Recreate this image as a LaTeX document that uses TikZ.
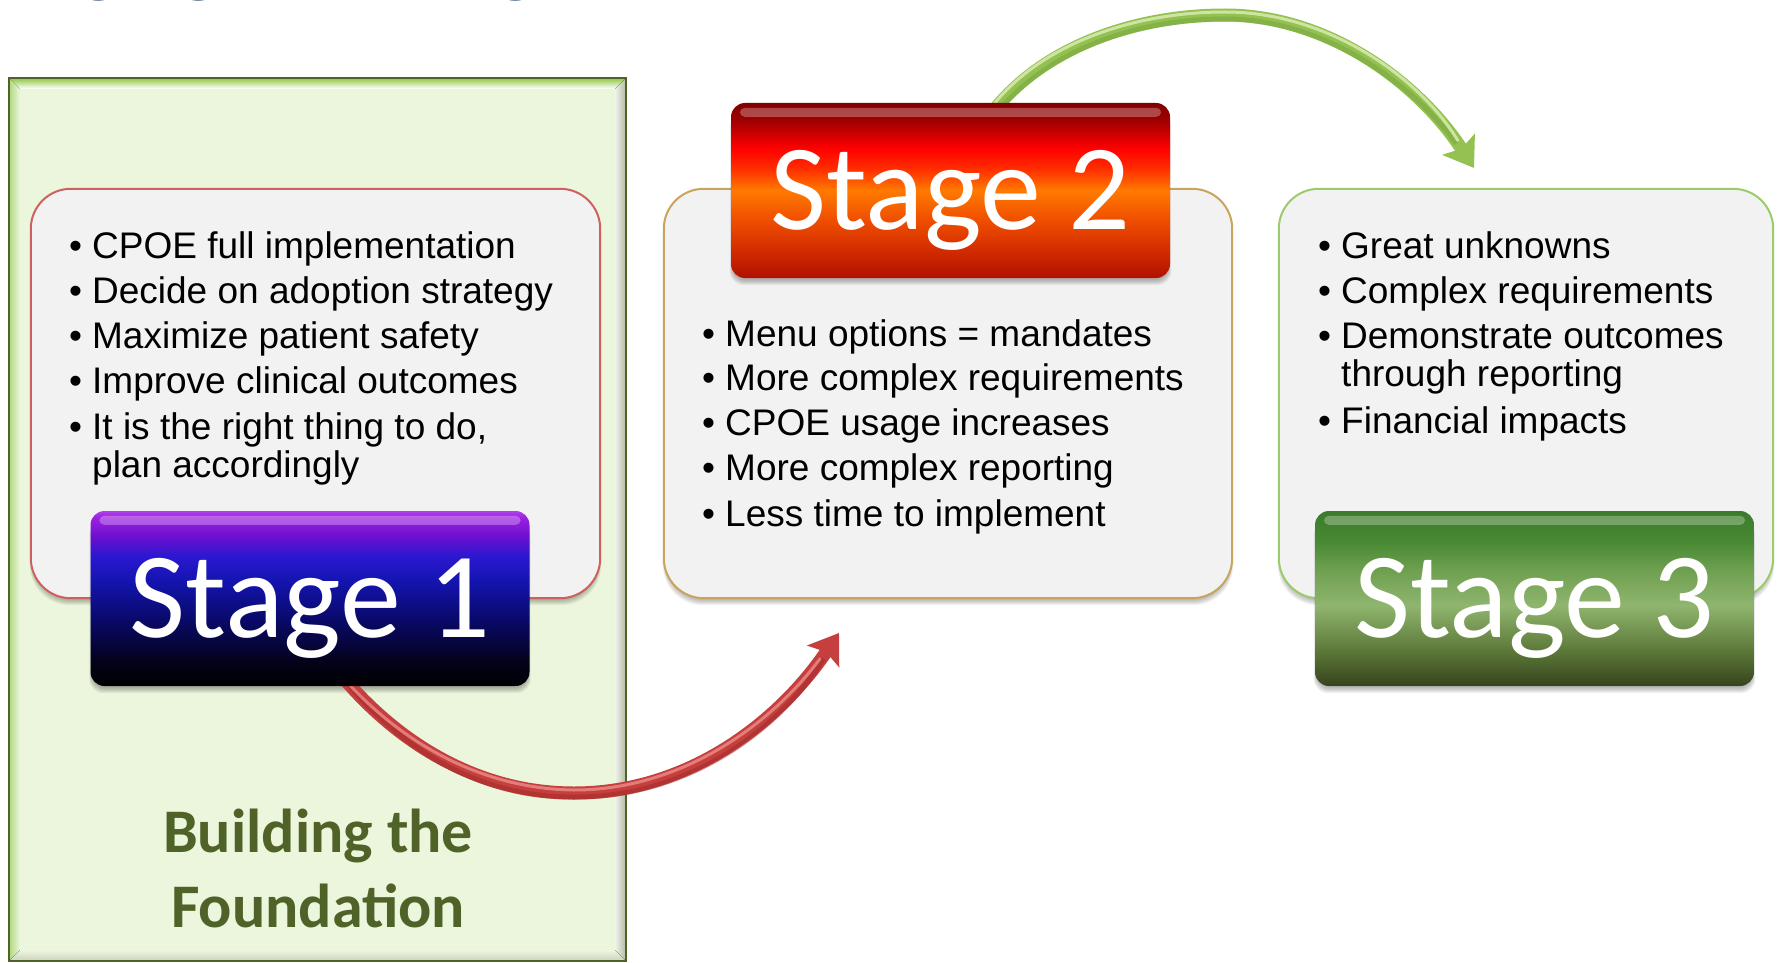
\documentclass[tikz,border=0pt]{standalone}
\usepackage{fontspec}
\setmainfont{Liberation Sans}
\newfontfamily\stagefont{Carlito}
\usetikzlibrary{arrows.meta,calc}

\definecolor{titleblue}{HTML}{24406E}
\definecolor{bgfill}{HTML}{EBF6DC}
\definecolor{bgedge}{HTML}{4F6228}
\definecolor{bevtop}{HTML}{8CC63F}
\definecolor{boxfill}{HTML}{F2F2F2}
\definecolor{s1edge}{HTML}{D0605E}
\definecolor{s2edge}{HTML}{C9A45C}
\definecolor{s3edge}{HTML}{9BCB6A}
\definecolor{foundgreen}{HTML}{4F6228}
\definecolor{redarrow}{HTML}{C43F3D}
\definecolor{redshade}{HTML}{A52E2D}
\definecolor{redhi}{HTML}{EC8C8A}
\definecolor{greenarrow}{HTML}{93C152}
\definecolor{greenshade}{HTML}{7CA83E}
\definecolor{greenhi}{HTML}{DCEFB5}

% header gradients (bottom = 25bp, top = 75bp)
\pgfdeclareverticalshading{stageone}{100bp}{%
  color(0bp)=(black); color(25bp)=(black); color(32bp)=(rgb,255:red,3;green,2;blue,26);
  color(45bp)=(rgb,255:red,10;green,10;blue,112); color(55bp)=(rgb,255:red,20;green,20;blue,176);
  color(62bp)=(rgb,255:red,42;green,24;blue,208); color(68bp)=(rgb,255:red,112;green,16;blue,208);
  color(73bp)=(rgb,255:red,154;green,32;blue,224); color(75bp)=(rgb,255:red,176;green,64;blue,232);
  color(100bp)=(rgb,255:red,176;green,64;blue,232)}
\pgfdeclareverticalshading{stagetwo}{100bp}{%
  color(0bp)=(rgb,255:red,176;green,16;blue,0); color(25bp)=(rgb,255:red,176;green,16;blue,0);
  color(32bp)=(rgb,255:red,208;green,40;blue,0); color(42bp)=(rgb,255:red,240;green,80;blue,0);
  color(50bp)=(rgb,255:red,255;green,122;blue,0); color(56bp)=(rgb,255:red,255;green,48;blue,0);
  color(62bp)=(rgb,255:red,255;green,0;blue,0); color(70bp)=(rgb,255:red,160;green,0;blue,0);
  color(75bp)=(rgb,255:red,128;green,0;blue,0); color(100bp)=(rgb,255:red,128;green,0;blue,0)}
\pgfdeclareverticalshading{stagethree}{100bp}{%
  color(0bp)=(rgb,255:red,54;green,67;blue,30); color(25bp)=(rgb,255:red,54;green,67;blue,30);
  color(35bp)=(rgb,255:red,92;green,120;blue,56); color(48bp)=(rgb,255:red,143;green,181;blue,110);
  color(58bp)=(rgb,255:red,111;green,160;blue,80); color(66bp)=(rgb,255:red,74;green,138;blue,53);
  color(75bp)=(rgb,255:red,58;green,122;blue,42); color(100bp)=(rgb,255:red,58;green,122;blue,42)}

\pgfdeclarelayer{boxes}
\pgfdeclarelayer{links}
\pgfsetlayers{boxes,links,main}

\newcommand\bul{\makebox[23pt][l]{•}}
\newcommand\softshadow[2]{%
  \foreach \k in {1,...,6}{%
    \fill[black,opacity=0.05,rounded corners=#2]
      ($(#1.north west)+(2-0.5*\k,10)$) rectangle ($(#1.south east)+(0.5*\k-2,1+\k)$);}}

\begin{document}
\begin{tikzpicture}[x=1pt,y=-1pt,
  textbox/.style={draw, line width=2pt, fill=boxfill, rounded corners=40pt, inner sep=0pt},
  stagehead/.style={rounded corners=14pt, inner sep=0pt, text=white,
    font=\stagefont\fontsize{122}{122}\selectfont, text height=78pt, text depth=0pt,
    minimum width=439pt, minimum height=175pt},
  gloss/.style={white, opacity=0.28, rounded corners=5pt},
  bline/.style={anchor=base west, inner sep=0pt, font=\fontsize{37}{38}\selectfont},
  foundlbl/.style={anchor=base, inner sep=0pt, text=foundgreen,
    font=\stagefont\bfseries\fontsize{62}{62}\selectfont},
  arrowtip/.style={-{Stealth[length=28pt,width=38pt,inset=5pt]}},
  arrowbase/.style={line width=13pt},
  arrowedge/.style={line width=5pt, opacity=0.6},
  arrowshine/.style={line width=3pt, line cap=round, opacity=0.8}]

\useasboundingbox (0,0) rectangle (1777,963);
\clip (0,0) rectangle (1777,963);

% heading, cut by the top edge
\node[anchor=base west, inner sep=0pt, text=titleblue,
  font=\stagefont\bfseries\fontsize{92}{92}\selectfont] (title) at (70,1) {CPOE DEPLOYMENT};

% stage headers
\node[stagehead, shading=stageone] (s1head) at (310,598.5) {Stage 1};
\node[stagehead, shading=stagetwo] (s2head) at (950.5,190.5) {Stage 2};
\node[stagehead, shading=stagethree] (s3head) at (1534.5,598.5) {Stage 3};
\foreach \h in {s1head,s2head,s3head}{
  \fill[gloss] ($(\h.north west)+(9,5)$) rectangle ($(\h.north east)+(-9,14)$);}

\begin{pgfonlayer}{boxes}
  % foundation panel with bevelled frame
  \node[fill=bgfill, inner sep=0pt, minimum width=617pt, minimum height=883pt] (found) at (317.5,519.5) {};
  \fill[top color=bevtop, bottom color=white]
    (found.north west) -- (found.north east) -- ($(found.north east)+(-11,11)$) -- ($(found.north west)+(11,11)$) -- cycle;
  \fill[left color=bevtop!70, right color=bgfill]
    (found.north west) -- ($(found.north west)+(11,11)$) -- ($(found.south west)+(11,-11)$) -- (found.south west) -- cycle;
  \fill[left color=bgfill!70!gray!30, right color=bgedge!45]
    (found.north east) -- ($(found.north east)+(-11,11)$) -- ($(found.south east)+(-11,-11)$) -- (found.south east) -- cycle;
  \fill[top color=bgfill, bottom color=bgedge!30]
    (found.south west) -- ($(found.south west)+(11,-11)$) -- ($(found.south east)+(-11,-11)$) -- (found.south east) -- cycle;
  \draw[bgedge, line width=2.5pt] (found.north west) rectangle (found.south east);

  % bullet panels
  \node[inner sep=0pt, minimum width=569pt, minimum height=409pt] (s1box) at (315.5,393.5) {};
  \node[inner sep=0pt, minimum width=568pt, minimum height=409pt] (s2box) at (948,393.5) {};
  \node[inner sep=0pt, minimum width=494pt, minimum height=409pt] (s3box) at (1526,393.5) {};
  \softshadow{s1box}{40pt}
  \softshadow{s2box}{40pt}
  \softshadow{s3box}{40pt}
  \draw[textbox, draw=s1edge] (s1box.north west) rectangle (s1box.south east);
  \draw[textbox, draw=s2edge] (s2box.north west) rectangle (s2box.south east);
  \draw[textbox, draw=s3edge] (s3box.north west) rectangle (s3box.south east);

  % header shadows
  \softshadow{s1head}{14pt}
  \softshadow{s2head}{14pt}
  \softshadow{s3head}{14pt}
\end{pgfonlayer}

% stage 1 bullets
\node[bline] (s1a) at (69,258) {\bul CPOE full implementation};
\node[bline] (s1b) at (69,303) {\bul Decide on adoption strategy};
\node[bline] (s1c) at (69,348) {\bul Maximize patient safety};
\node[bline] (s1d) at (69,393) {\bul Improve clinical outcomes};
\node[bline] (s1e) at (69,439) {\bul It is the right thing to do,};
\node[bline] (s1f) at (92,477) {plan accordingly};

% stage 2 bullets
\node[bline] (s2a) at (702,346) {\bul Menu options = mandates};
\node[bline] (s2b) at (702,390) {\bul More complex requirements};
\node[bline] (s2c) at (702,435) {\bul CPOE usage increases};
\node[bline] (s2d) at (702,480) {\bul More complex reporting};
\node[bline] (s2e) at (702,526) {\bul Less time to implement};

% stage 3 bullets
\node[bline] (s3a) at (1318,258) {\bul Great unknowns};
\node[bline] (s3b) at (1318,303) {\bul Complex requirements};
\node[bline] (s3c) at (1318,348) {\bul Demonstrate outcomes};
\node[bline] (s3d) at (1341,386) {through reporting};
\node[bline] (s3e) at (1318,433) {\bul Financial impacts};

% panel caption
\node[foundlbl] (found1) at (318,852) {Building the};
\node[foundlbl] (found2) at (318,927) {Foundation};

% curved connectors between stages
\coordinate (redlow) at (574,793);
\coordinate (redtip) at (839,633);
\coordinate (greentop) at (1225,15);
\coordinate (greentip) at (1474,168);
\begin{pgfonlayer}{links}
  % red link: body, darker lower rim, light upper streak
  \draw[arrowbase, redarrow, arrowtip]
    ($(s1head.south)+(32,-10)$) .. controls (400,745) and (480,793) .. (redlow)
    .. controls (690,793) and (780,720) .. (redtip);
  \draw[arrowedge, redshade, shorten >=30pt]
    ($(s1head.south)+(34,-7)$) .. controls (402,750) and (480,798) .. ($(redlow)+(0,4)$)
    .. controls (692,798) and (784,724) .. (redtip);
  \draw[arrowshine, redhi, shorten >=32pt]
    ($(s1head.south)+(30,-12)$) .. controls (398,741) and (480,789) .. ($(redlow)+(0,-3)$)
    .. controls (688,790) and (777,717) .. (redtip);
  % green link
  \draw[arrowbase, greenarrow, arrowtip]
    ($(s2head.north)+(41.5,10)$) .. controls (1040,50) and (1130,15) .. (greentop)
    .. controls (1330,15) and (1420,85) .. (greentip);
  \draw[arrowedge, greenshade, shorten >=30pt]
    ($(s2head.north)+(44,13)$) .. controls (1043,54) and (1130,19) .. ($(greentop)+(0,4)$)
    .. controls (1328,19) and (1416,88) .. (greentip);
  \draw[arrowshine, greenhi, shorten >=32pt]
    ($(s2head.north)+(39,7)$) .. controls (1037,46) and (1130,12) .. ($(greentop)+(0,-3)$)
    .. controls (1332,12) and (1423,82) .. (greentip);
\end{pgfonlayer}
\end{tikzpicture}
\end{document}
